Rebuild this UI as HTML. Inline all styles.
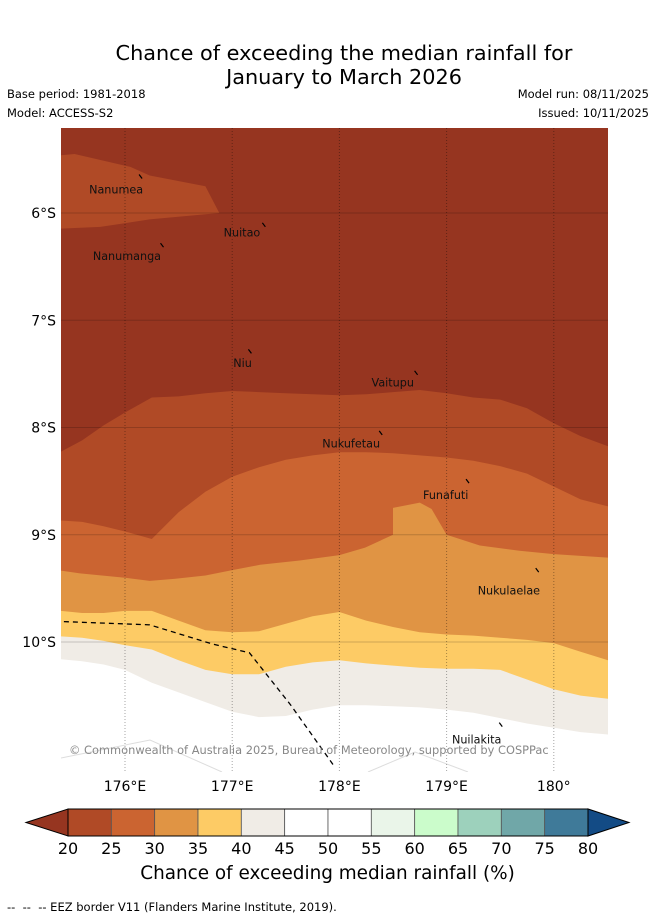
<!DOCTYPE html>
<html><head><meta charset="utf-8">
<style>
html,body{margin:0;padding:0;background:#fff;}
body{width:655px;height:919px;position:relative;overflow:hidden;font-family:"DejaVu Sans","Liberation Sans",sans-serif;}
.t{position:absolute;white-space:nowrap;color:#000;}
</style></head>
<body>
<div class="t" style="left:0;width:688px;text-align:center;top:41px;font-size:20.8px;line-height:24px;">Chance of exceeding the median rainfall for<br>January to March 2026</div>
<div class="t" style="left:7px;top:87px;font-size:11.5px;">Base period: 1981-2018</div>
<div class="t" style="left:7px;top:106px;font-size:11.5px;">Model: ACCESS-S2</div>
<div class="t" style="right:6px;top:87px;font-size:11.5px;">Model run: 08/11/2025</div>
<div class="t" style="right:6px;top:106px;font-size:11.5px;">Issued: 10/11/2025</div>
<svg id="map" width="655" height="919" style="position:absolute;left:0;top:0;" xmlns="http://www.w3.org/2000/svg"></svg>
<div class="t" style="left:0;width:655px;text-align:center;top:863px;font-size:18.4px;">Chance of exceeding median rainfall (%)</div>
<div class="t" style="left:7px;top:900px;font-size:11.5px;">-- &nbsp;-- &nbsp;-- EEZ border V11 (Flanders Marine Institute, 2019).</div>
<script>
const LONS=[175.4,175.6,175.8,176.0,176.25,176.5,176.75,177.0,177.25,177.5,177.75,178.0,178.25,178.5,178.75,179.0,179.25,179.5,179.75,180.0,180.25,180.5];
const latA=[8.28,8.12,7.98,7.86,7.72,7.71,7.68,7.66,7.67,7.68,7.69,7.70,7.69,7.67,7.65,7.68,7.72,7.74,7.82,7.96,8.08,8.21];
const latB=[8.86,8.88,8.92,8.97,9.04,8.79,8.60,8.46,8.37,8.30,8.26,8.23,8.23,8.24,8.26,8.28,8.31,8.36,8.43,8.55,8.67,8.76];
const lonC=[175.40,175.58,176.0,176.23,176.47,176.75,177.0,177.26,177.63,178.0,178.24,178.50,178.50,178.75,178.86,179.0,179.31,179.68,180.0,180.51];
const latC=[9.32,9.36,9.40,9.43,9.41,9.38,9.33,9.28,9.24,9.19,9.12,9.00,8.75,8.70,8.76,9.00,9.10,9.15,9.18,9.22];
const latD=[9.70,9.73,9.73,9.71,9.71,9.80,9.89,9.91,9.90,9.83,9.76,9.72,9.80,9.86,9.91,9.93,9.94,9.96,9.98,10.01,10.09,10.20];
const latE=[9.94,9.96,9.99,10.03,10.07,10.17,10.26,10.30,10.30,10.23,10.19,10.17,10.20,10.22,10.24,10.25,10.25,10.26,10.35,10.44,10.50,10.54];
const latF=[10.15,10.18,10.21,10.26,10.38,10.47,10.56,10.65,10.70,10.69,10.63,10.59,10.59,10.60,10.61,10.63,10.66,10.71,10.76,10.80,10.84,10.87];
const patchLon=[175.40,175.53,176.05,176.23,176.75,176.88,176.23,175.77,175.40];
const patchLat=[5.47,5.45,5.57,5.65,5.75,6.0,6.06,6.13,6.15];
const eezLon=[175.43,176.23,176.82,177.16,177.54,177.96];
const eezLat=[9.81,9.84,10.02,10.10,10.58,11.17];
const places=["Nanumea","Nuitao","Nanumanga","Niu","Vaitupu","Nukufetau","Funafuti","Nukulaelae","Nuilakita"];
const placeLon=[176.15,177.30,176.35,177.17,178.72,178.39,179.20,179.85,179.51];
const placeLat=[5.66,6.11,6.30,7.29,7.49,8.05,8.50,9.33,10.77];
const labelLon=[175.665,176.92,175.70,177.01,178.30,177.84,178.78,179.29,179.05];
const labelLat=[5.78,6.18,6.40,7.40,7.58,8.15,8.63,9.52,10.91];
const lonTicks=[176,177,178,179,180];
const lonTickLabels=["176°E","177°E","178°E","179°E","180°"];
const latTicks=[6,7,8,9,10];
const latTickLabels=["6°S","7°S","8°S","9°S","10°S"];
const cbLevels=[20,25,30,35,40,45,50,55,60,65,70,75,80];
const cbColors=["#b04a26","#cb6431","#e09444","#fdcb65","#f0ece6","#ffffff","#ffffff","#eaf5e9","#cbfccb","#9dd1bc","#70a7a8","#3f7a99"];

const L0=61,L1=608,T0=128,T1=772;
const x=lon=>125+(lon-176)*107.2;
const y=lat=>213+(lat-6)*107.25;
const svg=document.getElementById('map');
const NS="http://www.w3.org/2000/svg";
function mk(tag,attrs,parent){const e=document.createElementNS(NS,tag);for(const k in attrs)e.setAttribute(k,attrs[k]);(parent||svg).appendChild(e);return e;}
const defs=mk('defs',{});
const cp=mk('clipPath',{id:'clip'},defs);mk('rect',{x:L0,y:T0,width:L1-L0,height:T1-T0},cp);
const g=mk('g',{'clip-path':'url(#clip)'});


const bg=mk('rect',{x:L0,y:T0,width:L1-L0,height:T1-T0,fill:'#963520'},g);


function band(lons,lats,fill,name){
  let d='M'+x(lons[0]-0.1)+','+(T1+20);
  for(let i=0;i<lons.length;i++){const lo=i==0?lons[i]-0.1:(i==lons.length-1?lons[i]+0.1:lons[i]);d+=' L'+x(lo).toFixed(1)+','+y(lats[i]).toFixed(1);}
  d+=' L'+x(lons[lons.length-1]+0.1)+','+(T1+20)+' Z';
  const p=mk('path',{d:d,fill:fill},g);
  
  
}
band(LONS,latA,'#b04a26','band-20-25');
band(LONS,latB,'#cb6431','band-25-30');
band(lonC,latC,'#e09444','band-30-35');
band(LONS,latD,'#fdcb65','band-35-40');
band(LONS,latE,'#f0ece6','band-40-45');
band(LONS,latF,'#ffffff','band-45-50');
let pd='M'+x(patchLon[0]-0.1)+','+y(patchLat[0]);
for(let i=0;i<patchLon.length;i++)pd+=' L'+x(i==0||i==patchLon.length-1?patchLon[i]-0.1:patchLon[i]).toFixed(1)+','+y(patchLat[i]).toFixed(1);
const pp=mk('path',{d:pd+' Z',fill:'#b04a26'},g);


mk('polyline',{points:'61,758 150,740 222,772',fill:'none',stroke:'#ddd','stroke-width':1},g);
mk('polyline',{points:'368,772 415,752 468,772',fill:'none',stroke:'#ddd','stroke-width':1},g);
lonTicks.forEach(lo=>{const l=mk('line',{x1:x(lo),x2:x(lo),y1:T0,y2:T1,stroke:'rgba(0,0,0,0.35)','stroke-width':1,'stroke-dasharray':'1,2'},g);});
latTicks.forEach(la=>{const l=mk('line',{x1:L0,x2:L1,y1:y(la),y2:y(la),stroke:'rgba(0,0,0,0.18)','stroke-width':1},g);});
const ez=mk('polyline',{points:eezLon.map((v,i)=>x(v)+','+y(eezLat[i])).join(' '),fill:'none',stroke:'#000','stroke-width':1.3,'stroke-dasharray':'5,4'},g);


places.forEach((n,i)=>{
  const m=mk('line',{x1:x(placeLon[i])-2,y1:y(placeLat[i])-2,x2:x(placeLon[i])+1,y2:y(placeLat[i])+2,stroke:'#000','stroke-width':1.2},g);
  
  
  const t=mk('text',{x:x(labelLon[i]),y:y(labelLat[i])+4,'font-size':11.2,fill:'#111'},g);
  t.textContent=n;
  
  
});
const cr=mk('text',{x:69,y:754,'font-size':11.4,fill:'#888'},g);
cr.textContent='© Commonwealth of Australia 2025, Bureau of Meteorology, supported by COSPPac';


lonTicks.forEach((lo,i)=>{const t=mk('text',{x:x(lo),y:791,'font-size':14,'text-anchor':'middle'});t.textContent=lonTickLabels[i];});
latTicks.forEach((la,i)=>{const t=mk('text',{x:56,y:y(la)+5,'font-size':14,'text-anchor':'end'});t.textContent=latTickLabels[i];});
const cx0=68,cx1=588,cy0=809,cy1=836,w=(cx1-cx0)/cbColors.length;
const lt=mk('polygon',{points:`26,822.5 ${cx0},${cy0} ${cx0},${cy1}`,fill:'#963520',stroke:'#000','stroke-width':1});

const rt=mk('polygon',{points:`629,822.5 ${cx1},${cy0} ${cx1},${cy1}`,fill:'#134b85',stroke:'#000','stroke-width':1});

cbColors.forEach((c,i)=>{const r=mk('rect',{x:cx0+i*w,y:cy0,width:w,height:cy1-cy0,fill:c,stroke:'#555','stroke-width':0.8});});
mk('rect',{x:cx0,y:cy0,width:cx1-cx0,height:cy1-cy0,fill:'none',stroke:'#000','stroke-width':1});
cbLevels.forEach((v,i)=>{const t=mk('text',{x:cx0+i*w,y:854,'font-size':16,'text-anchor':'middle'});t.textContent=v;});
</script>
</body></html>
